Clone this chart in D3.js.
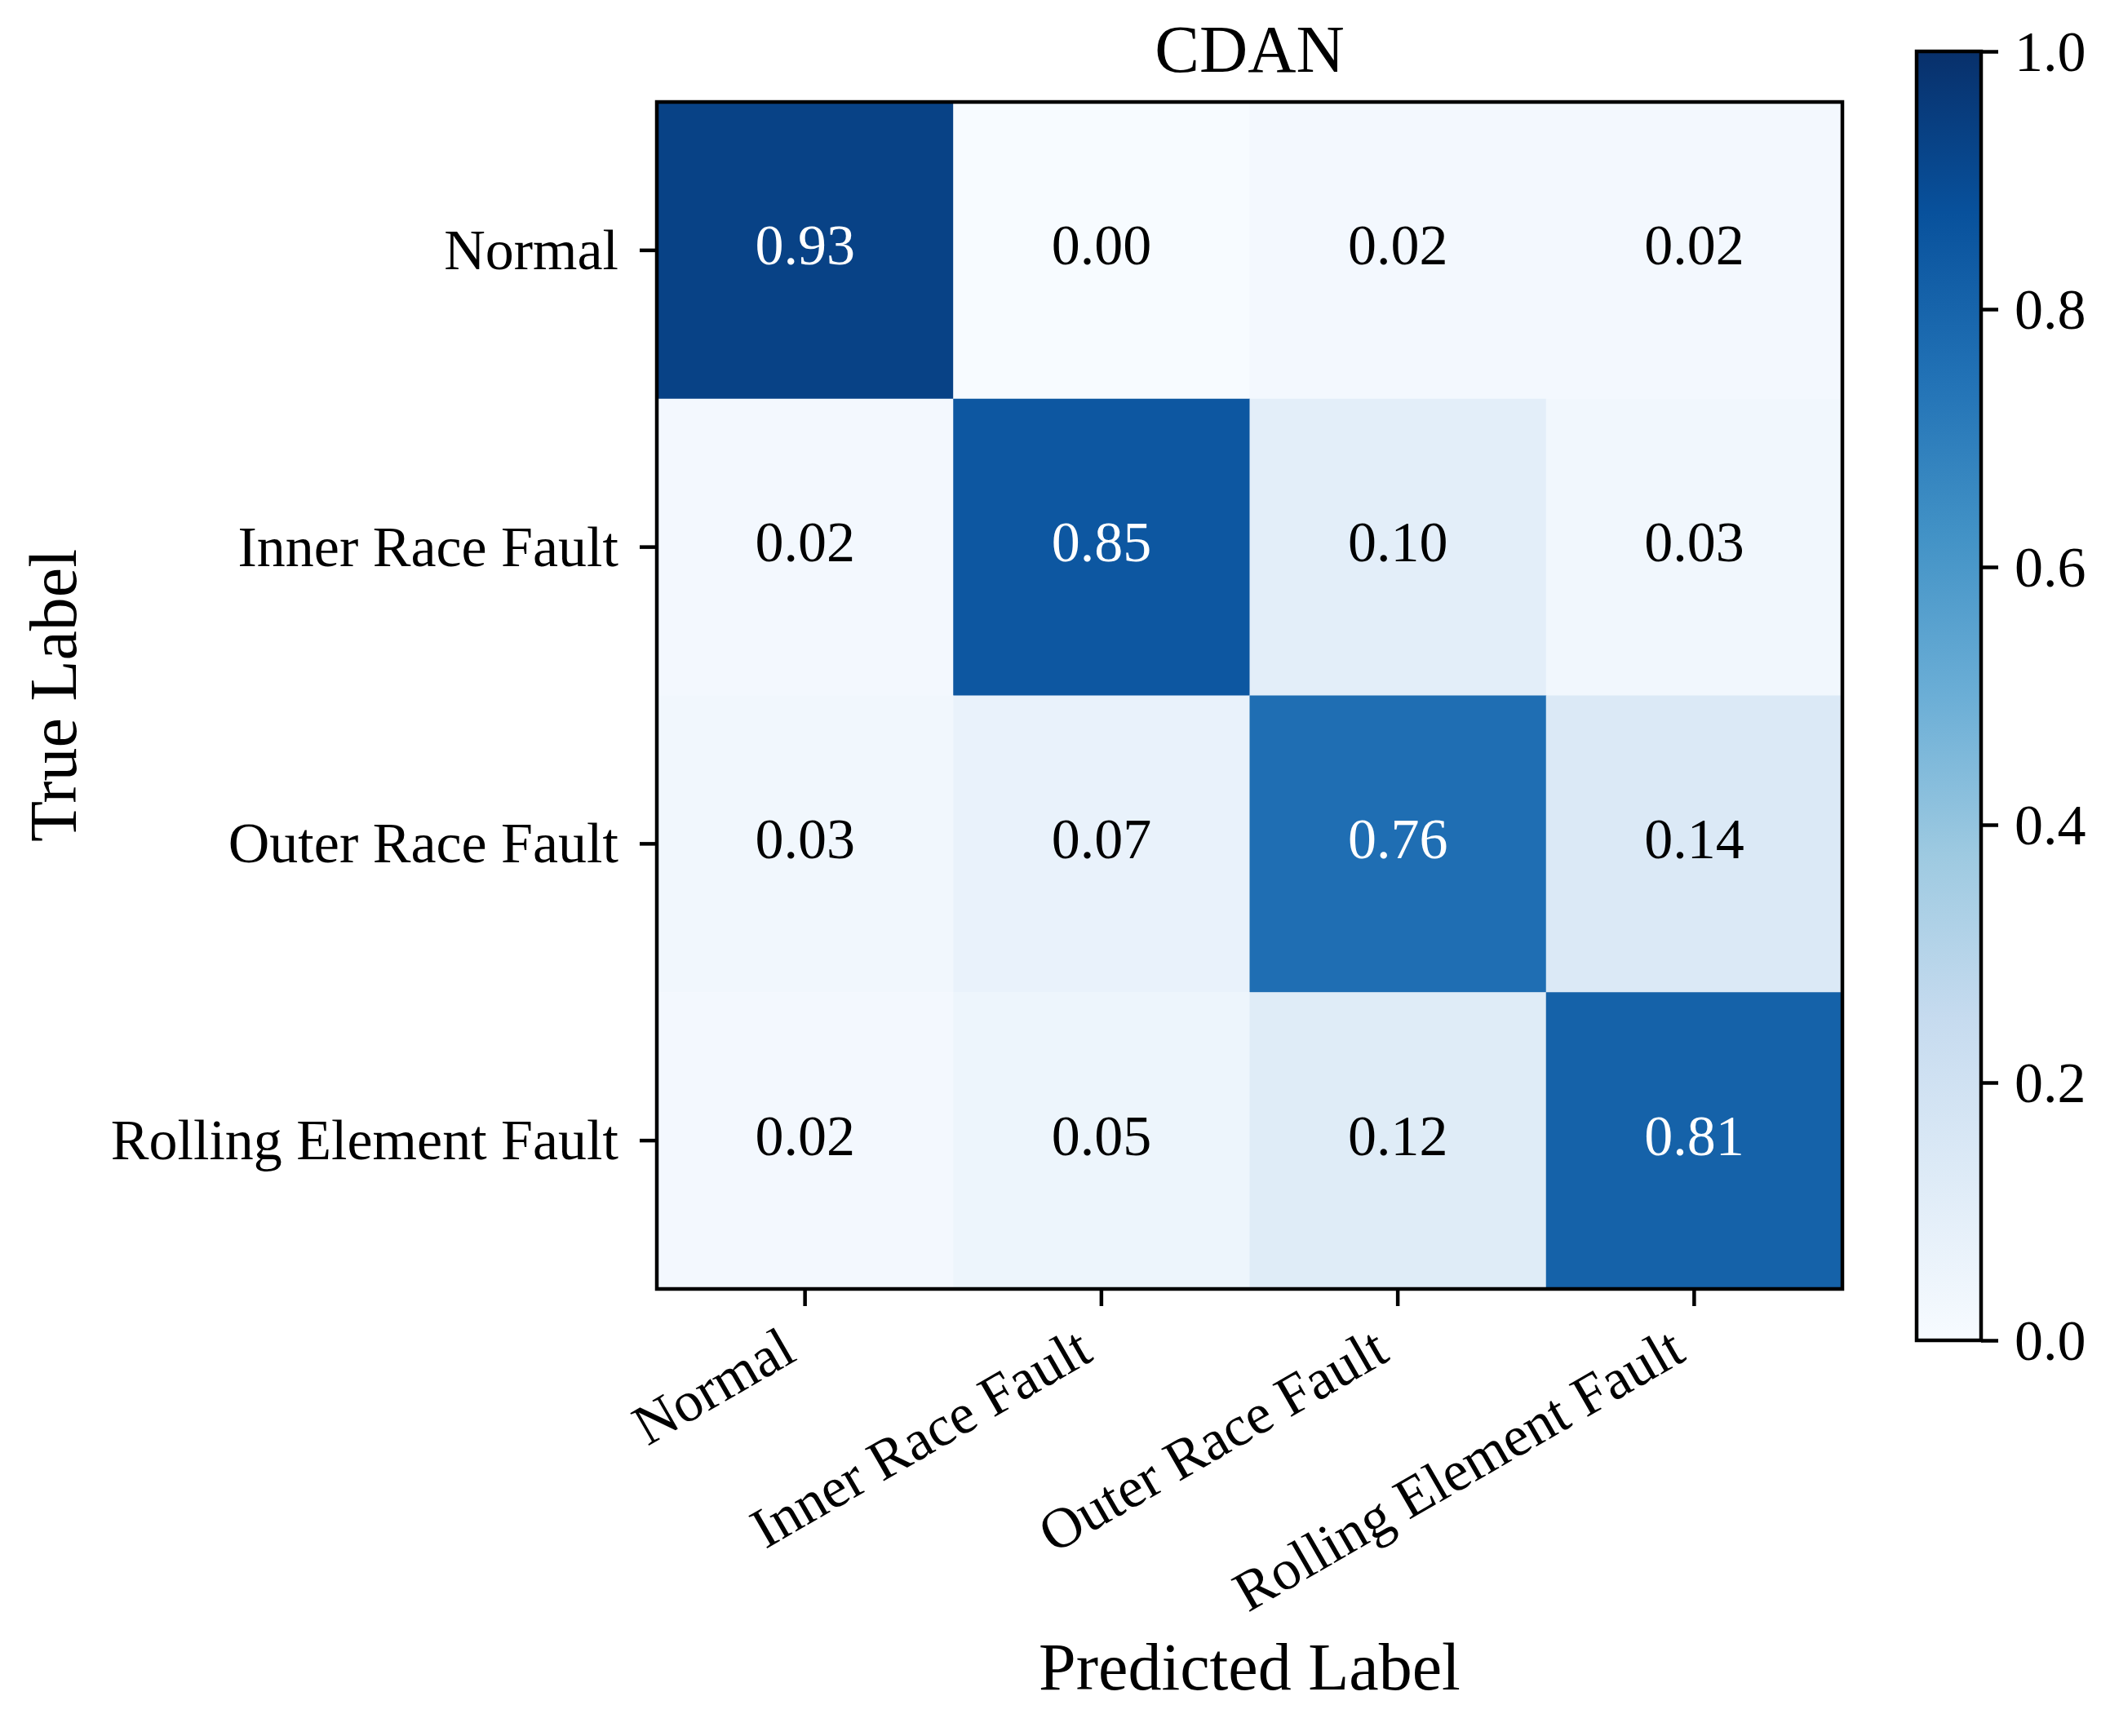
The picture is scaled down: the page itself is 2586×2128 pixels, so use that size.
<!DOCTYPE html>
<html>
<head>
<meta charset="utf-8">
<title>CDAN confusion matrix</title>
<script src="https://cdn.jsdelivr.net/npm/d3@7"></script>
<style>
  body { margin: 0; background: #fff; }
  text { font-family: "Liberation Serif", "Times New Roman", serif; fill: #000; }
</style>
</head>
<body>
<div id="chart"></div>
<script>
  // data
  var classes = ["Normal", "Inner Race Fault", "Outer Race Fault", "Rolling Element Fault"];
  var rowNormal = [0.93, 0.00, 0.02, 0.02];
  var rowInner = [0.02, 0.85, 0.10, 0.03];
  var rowOuter = [0.03, 0.07, 0.76, 0.14];
  var rowRolling = [0.02, 0.05, 0.12, 0.81];
  var barTicks = [0.0, 0.2, 0.4, 0.6, 0.8, 1.0];
  var title = "CDAN";

  var matrix = [rowNormal, rowInner, rowOuter, rowRolling];

  var W = 2586, H = 2128;
  var box = {left: 805, right: 2258, top: 125, bottom: 1580};
  var bar = {left: 2349, width: 79, top: 63, bottom: 1643};
  var tickFont = 70, labelFont = 82, tickLen = 21, lw = 4.5;

  // matplotlib "Blues" is linear between these nine colours
  var blues = ["#f7fbff","#deebf7","#c6dbef","#9ecae1","#6baed6","#4292c6","#2171b5","#08519c","#08306b"];
  var color = d3.scaleLinear()
    .domain(blues.map(function(d, i) { return i / 8; }))
    .range(blues)
    .clamp(true);

  var svg = d3.select("#chart").append("svg")
    .attr("width", W)
    .attr("height", H);
  svg.append("rect").attr("width", W).attr("height", H).attr("fill", "#fff");

  var x = d3.scaleBand().domain(classes).range([box.left, box.right]);
  var y = d3.scaleBand().domain(classes).range([box.top, box.bottom]);

  var cells = [];
  matrix.forEach(function(row, i) {
    row.forEach(function(v, j) {
      cells.push({t: classes[i], p: classes[j], v: v});
    });
  });

  svg.append("g").selectAll("rect")
    .data(cells)
    .enter().append("rect")
      .attr("x", function(d) { return x(d.p); })
      .attr("y", function(d) { return y(d.t); })
      .attr("width", x.bandwidth() + 0.5)
      .attr("height", y.bandwidth() + 0.5)
      .attr("fill", function(d) { return color(d.v); });

  svg.append("g").selectAll("text")
    .data(cells)
    .enter().append("text")
      .attr("x", function(d) { return x(d.p) + x.bandwidth() / 2; })
      .attr("y", function(d) { return y(d.t) + y.bandwidth() / 2; })
      .attr("dy", "0.25em")
      .attr("text-anchor", "middle")
      .style("font-size", tickFont + "px")
      .style("fill", function(d) { return d.v > 0.5 ? "#fff" : "#000"; })
      .text(function(d) { return d.v.toFixed(2); });

  // y axis
  var yAxis = svg.append("g")
    .attr("transform", "translate(" + box.left + ",0)")
    .call(d3.axisLeft(y).tickSize(tickLen).tickPadding(26));
  yAxis.select(".domain").remove();
  yAxis.selectAll("line").attr("stroke", "#000").attr("stroke-width", lw);
  yAxis.selectAll("text")
    .attr("dy", "0.33em")
    .style("font-size", tickFont + "px")
    .style("font-family", "Liberation Serif, Times New Roman, serif");

  // x axis, labels turned 30 degrees
  var xAxis = svg.append("g")
    .attr("transform", "translate(0," + box.bottom + ")")
    .call(d3.axisBottom(x).tickSize(tickLen));
  xAxis.select(".domain").remove();
  xAxis.selectAll("line").attr("stroke", "#000").attr("stroke-width", lw);
  xAxis.selectAll("text")
    .attr("x", 0).attr("y", 0).attr("dy", 0)
    .attr("text-anchor", "end")
    .attr("transform", "translate(-8,86) rotate(-30)")
    .style("font-size", tickFont + "px")
    .style("font-family", "Liberation Serif, Times New Roman, serif");

  // frame
  svg.append("rect")
    .attr("x", box.left).attr("y", box.top)
    .attr("width", box.right - box.left)
    .attr("height", box.bottom - box.top)
    .attr("fill", "none")
    .attr("stroke", "#000")
    .attr("stroke-width", lw);

  // titles
  var cx = (box.left + box.right) / 2;
  svg.append("text")
    .attr("x", cx).attr("y", 88)
    .attr("text-anchor", "middle")
    .style("font-size", labelFont + "px")
    .text(title);
  svg.append("text")
    .attr("x", cx).attr("y", 2071)
    .attr("text-anchor", "middle")
    .style("font-size", labelFont + "px")
    .text("Predicted Label");
  svg.append("text")
    .attr("transform", "translate(93," + ((box.top + box.bottom) / 2) + ") rotate(-90)")
    .attr("text-anchor", "middle")
    .style("font-size", labelFont + "px")
    .text("True Label");

  // colorbar
  var grad = svg.append("defs").append("linearGradient")
    .attr("id", "blues")
    .attr("x1", 0).attr("y1", 1).attr("x2", 0).attr("y2", 0);
  grad.selectAll("stop")
    .data(blues)
    .enter().append("stop")
      .attr("offset", function(d, i) { return (i / 8 * 100) + "%"; })
      .attr("stop-color", function(d) { return d; });

  var cb = d3.scaleLinear().domain([0, 1]).range([bar.bottom, bar.top]);
  svg.append("rect")
    .attr("x", bar.left).attr("y", bar.top)
    .attr("width", bar.width).attr("height", bar.bottom - bar.top)
    .attr("fill", "url(#blues)")
    .attr("stroke", "#000")
    .attr("stroke-width", lw);

  var cAxis = svg.append("g")
    .attr("transform", "translate(" + (bar.left + bar.width) + ",0)")
    .call(d3.axisRight(cb).tickValues(barTicks).tickFormat(d3.format(".1f")).tickSize(tickLen).tickPadding(20));
  cAxis.select(".domain").remove();
  cAxis.selectAll("line").attr("stroke", "#000").attr("stroke-width", lw);
  cAxis.selectAll("text")
    .attr("dy", "0.33em")
    .style("font-size", tickFont + "px")
    .style("font-family", "Liberation Serif, Times New Roman, serif");
</script>
</body>
</html>
